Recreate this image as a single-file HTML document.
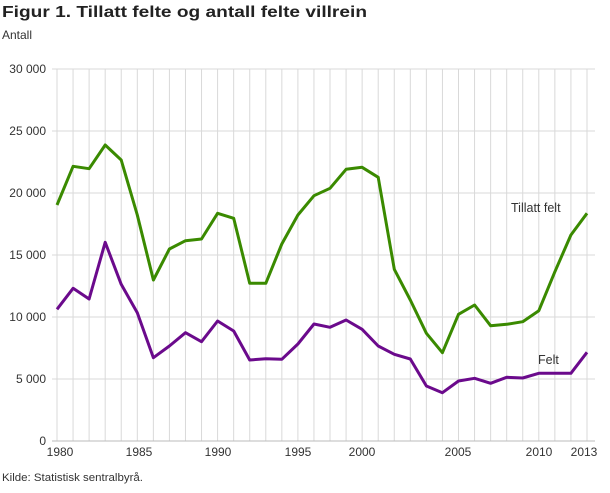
<!DOCTYPE html>
<html><head><meta charset="utf-8"><style>
body{margin:0;background:#fff;font-family:"Liberation Sans",sans-serif;}
</style></head><body>
<svg id="s" width="610" height="488" xmlns="http://www.w3.org/2000/svg" font-family="Liberation Sans, sans-serif">
<text x="2" y="17" font-size="16" font-weight="bold" fill="#222" textLength="365" lengthAdjust="spacingAndGlyphs">Figur 1. Tillatt felte og antall felte villrein</text>
<text x="2" y="39" font-size="12" fill="#333">Antall</text>
<g id="grid" stroke="#d9d9d9" stroke-width="1"></g>
<g id="yl" font-size="12" fill="#333" text-anchor="end"></g>
<g font-size="12" fill="#333" text-anchor="middle">
<text x="60" y="456">1980</text><text x="139" y="456">1985</text><text x="218" y="456">1990</text><text x="298" y="456">1995</text><text x="362" y="456">2000</text><text x="458" y="456">2005</text><text x="539" y="456">2010</text><text x="584" y="456">2013</text>
</g>
<g id="lines"></g>
<text x="511" y="212" font-size="12.5" fill="#333">Tillatt felt</text>
<text x="538" y="364" font-size="12.5" fill="#333">Felt</text>
<text x="2" y="481" font-size="11" fill="#333" textLength="141" lengthAdjust="spacingAndGlyphs">Kilde: Statistisk sentralbyrå.</text>
</svg>
<script>
var NS="http://www.w3.org/2000/svg";
function el(p,t,a){var e=document.createElementNS(NS,t);for(var k in a)e.setAttribute(k,a[k]);p.appendChild(e);return e;}
var g=document.getElementById('grid'),yl=document.getElementById('yl'),L=document.getElementById('lines');
var X=function(i){return 57+16.06*i;};
for(var i=0;i<34;i++)el(g,'line',{x1:X(i),x2:X(i),y1:69,y2:441});
var labs=["0","5 000","10 000","15 000","20 000","25 000","30 000"];
for(var j=0;j<7;j++){var y=441-62*j;el(g,'line',{x1:52,x2:595,y1:y,y2:y,stroke:j==0?'#bbb':'#d9d9d9'});var t=el(yl,'text',{x:46,y:y+4});t.textContent=labs[j];}
var G=[205,166.3,168.7,145,160,215,280,249,240.7,239,213.3,218.3,283.3,283.3,244,215,195.7,188.3,169.3,167.3,177.3,269.3,300,333.3,352.7,314.3,305,325.7,324.3,321.7,310.7,271.7,235,213.3];
var P=[309.3,288.3,299,242.3,284.3,312.7,357.7,346,332.7,341.7,321,331,360,358.7,359.3,344,324,327.3,320,329.3,346,354.3,359,386,392.7,381,378.3,383.3,377.3,378,373.3,373.3,373.3,352.3];
function pl(a,c){el(L,'polyline',{points:a.map(function(v,i){return X(i).toFixed(1)+','+v;}).join(' '),fill:'none',stroke:c,'stroke-width':3,'stroke-linejoin':'round'});}
pl(G,'#3a8a00');pl(P,'#6b0a8c');
</script>
</body></html>
